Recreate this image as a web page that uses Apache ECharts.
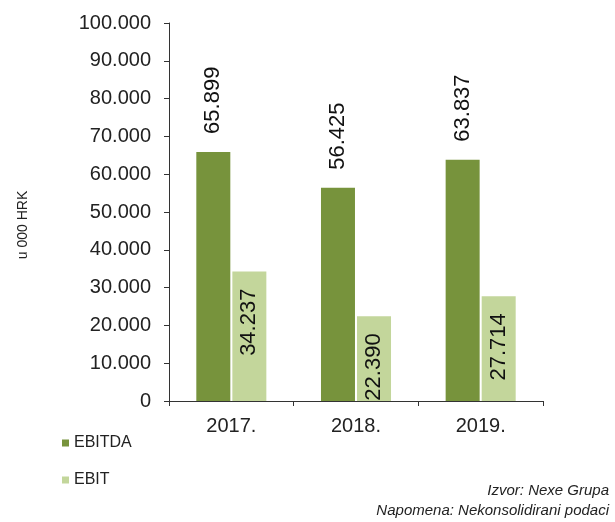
<!DOCTYPE html>
<html>
<head>
<meta charset="utf-8">
<script src="https://cdn.jsdelivr.net/npm/echarts@6/dist/echarts.min.js"></script>
<style>
    html, body {margin: 0; padding: 0; background: #fff;}
    #chart {width: 615px; height: 522px;}
</style>
</head>
<body>
<div id="chart"></div>
<script>
const years = ['2017.', '2018.', '2019.'];
const ebitda = [65899, 56425, 63837];
const ebit = [34237, 22390, 27714];

const fmt = v => v.toLocaleString('de-DE');

const chart = echarts.init(document.getElementById('chart'));

const option = {
    animation: false,
    textStyle: {fontFamily: 'Liberation Sans, Arial, sans-serif'},
    grid: {left: 169, right: 72, top: 23, bottom: 121},
    legend: {
        orient: 'vertical',
        left: 57,
        top: 430,
        itemWidth: 7,
        itemHeight: 7,
        itemGap: 21,
        icon: 'rect',
        textStyle: {fontSize: 16, color: '#222'},
        data: ['EBITDA', 'EBIT']
    },
    xAxis: {
        type: 'category',
        data: years,
        axisLine: {lineStyle: {color: '#333'}},
        axisTick: {show: true, length: 5, lineStyle: {color: '#333'}},
        axisLabel: {fontSize: 20, color: '#222', margin: 15}
    },
    yAxis: {
        type: 'value',
        min: 0,
        max: 100000,
        interval: 10000,
        splitLine: {show: false},
        axisLine: {show: true, lineStyle: {color: '#333'}},
        axisTick: {show: true, length: 5, lineStyle: {color: '#333'}},
        axisLabel: {fontSize: 20, color: '#222', margin: 18, formatter: fmt}
    },
    graphic: [
        {
            type: 'text',
            x: 23, y: 225,
            rotation: Math.PI / 2,
            style: {text: 'u 000 HRK', fontSize: 14, fill: '#222', align: 'center', verticalAlign: 'middle',
                fontFamily: 'Liberation Sans, Arial, sans-serif'}
        },
        {
            type: 'text',
            right: 6, top: 483,
            style: {text: 'Izvor: Nexe Grupa', fontSize: 15, fontStyle: 'italic', fill: '#222',
                fontFamily: 'Liberation Sans, Arial, sans-serif'}
        },
        {
            type: 'text',
            right: 6, top: 503,
            style: {text: 'Napomena: Nekonsolidirani podaci', fontSize: 15, fontStyle: 'italic', fill: '#222',
                fontFamily: 'Liberation Sans, Arial, sans-serif'}
        }
    ],
    series: [
        {
            name: 'EBITDA',
            type: 'bar',
            data: ebitda,
            barWidth: 34,
            barGap: '6%',
            itemStyle: {color: '#77933C'},
            label: {
                show: true,
                position: 'top',
                rotate: 90,
                align: 'left',
                verticalAlign: 'middle',
                distance: 18,
                fontSize: 22,
                color: '#111',
                formatter: p => fmt(p.value)
            }
        },
        {
            name: 'EBIT',
            type: 'bar',
            data: ebit,
            barWidth: 34,
            itemStyle: {color: '#C3D69B'},
            label: {
                show: true,
                position: 'insideTop',
                rotate: 90,
                align: 'right',
                verticalAlign: 'middle',
                distance: 17,
                fontSize: 22,
                color: '#111',
                formatter: p => fmt(p.value)
            }
        }
    ]
};

chart.setOption(option);
</script>
</body>
</html>
